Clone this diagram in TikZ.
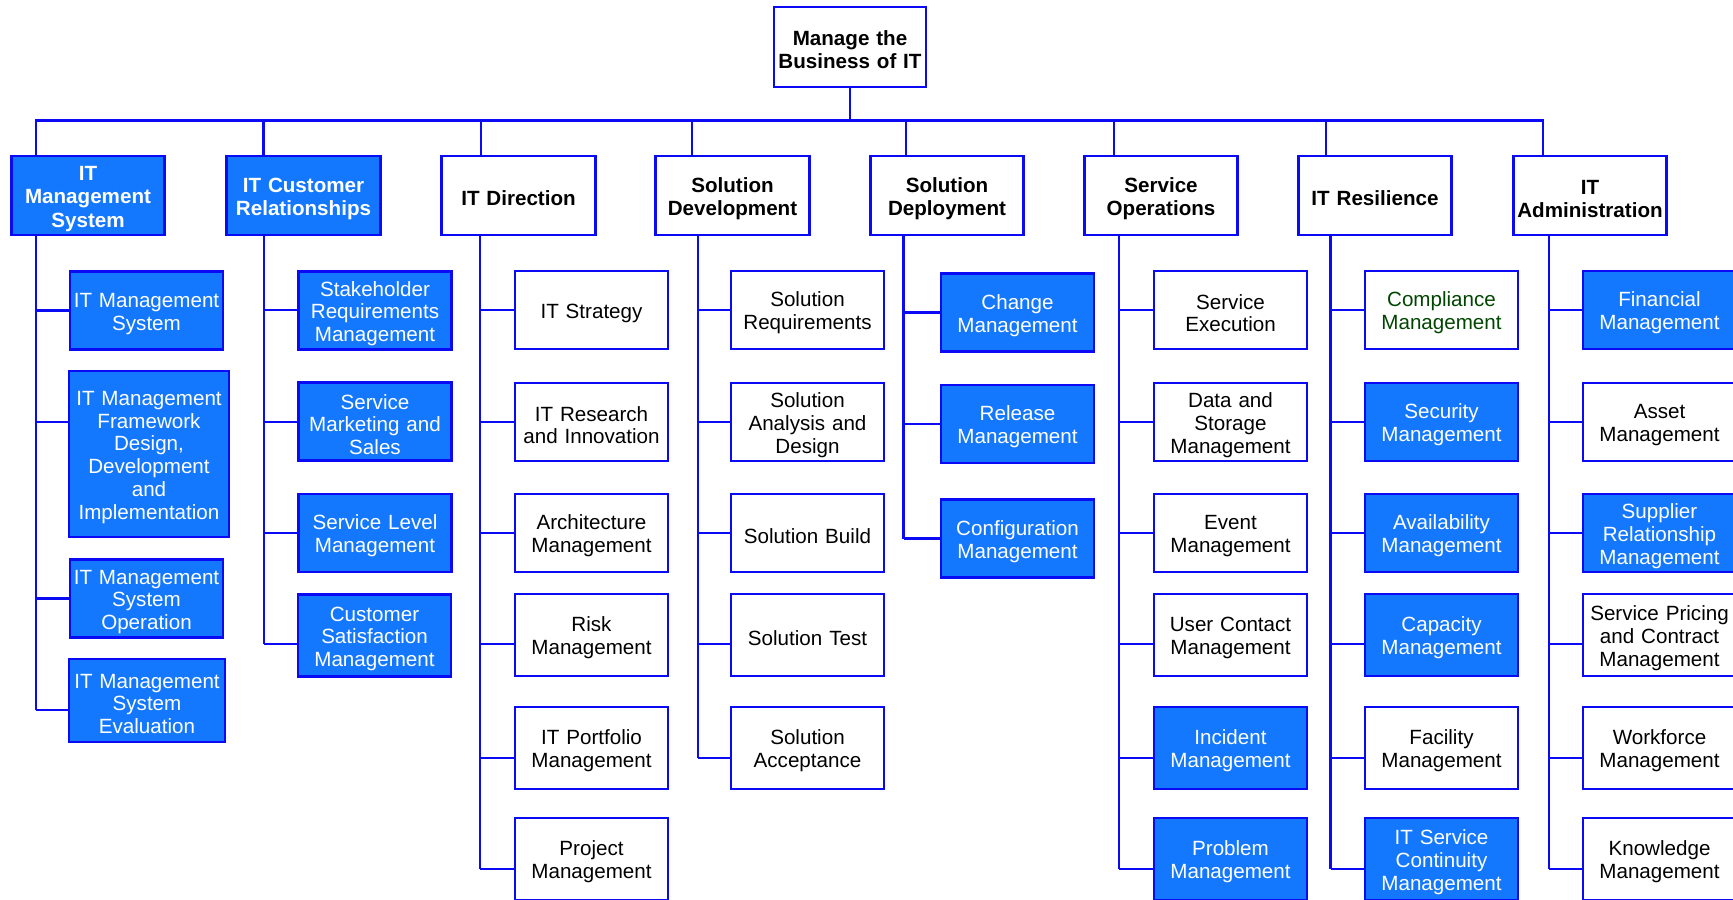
\documentclass[tikz,border=0pt]{standalone}
\usepackage{fontspec}
\setmainfont{Liberation Sans}
\usepackage{xcolor}
\definecolor{boxblue}{RGB}{20,120,255}
\definecolor{lineblue}{RGB}{10,10,245}
\definecolor{textgreen}{RGB}{0,70,0}

\begin{document}
\begin{tikzpicture}[x=0.5pt,y=-0.5pt]
\tikzstyle{every node}+=[inner sep=0pt]
\tikzstyle{box}=[draw=lineblue, line width=1.3pt, minimum width=76.5pt, minimum height=39pt, text width=75pt, align=center, font=\fontsize{10.3}{11.4}\selectfont, execute at begin node={\rule{0pt}{10.5pt}}]
\tikzstyle{head}=[box, minimum width=76.75pt, minimum height=39.5pt, font=\fontsize{10.3}{11.6}\selectfont\bfseries]
\tikzstyle{tall}=[minimum height=41pt]
\tikzstyle{filled}=[fill=boxblue, text=white]
\tikzstyle{link}=[lineblue, line width=1.2pt]
\useasboundingbox (0,0) rectangle (1733,899);
% rows of the ticks, x of the drops and of the spines
\coordinate (r1) at (0,310);
\coordinate (r2) at (0,422);
\coordinate (r3) at (0,533);
\coordinate (r4) at (0,644);
\coordinate (r5) at (0,758);
\coordinate (r6) at (0,869);
\coordinate (da) at (36,0);
\coordinate (db) at (263.5,0);
\coordinate (dc) at (481,0);
\coordinate (dd) at (692,0);
\coordinate (de) at (906,0);
\coordinate (df) at (1114,0);
\coordinate (dg) at (1326,0);
\coordinate (dh) at (1543,0);
\coordinate (sa) at (36,0);
\coordinate (sb) at (264,0);
\coordinate (sc) at (480,0);
\coordinate (sd) at (698,0);
\coordinate (se) at (903.5,0);
\coordinate (sf) at (1119,0);
\coordinate (sg) at (1330.5,0);
\coordinate (sh) at (1549,0);
\coordinate (bus) at (850,120.5);
% top
\node[head, minimum width=76pt, minimum height=40pt] (root) at (850,47) {Manage the\\Business of IT};
\node[head, filled] (ims) at (88,195.5) {IT\\Management\\System};
\node[head, filled] (icr) at (303.5,195.5) {IT Customer\\Relationships};
\node[head] (itd) at (518.5,195.5) {IT Direction};
\node[head] (sdv) at (732.5,195.5) {Solution\\Development};
\node[head] (sdp) at (947,195.5) {Solution\\Deployment};
\node[head] (sop) at (1161,195.5) {Service\\Operations};
\node[head] (itr) at (1375,195.5) {IT Resilience};
\node[head] (ita) at (1590,195.5) {IT\\Administration};
\draw[link] (root.south) -- (bus);
\draw[link] (ims.north -| da) |- (bus) -| (ita.north -| dh);
\draw[link] (bus -| db) -- (icr.north -| db);
\draw[link] (bus -| dc) -- (itd.north -| dc);
\draw[link] (bus -| dd) -- (sdv.north -| dd);
\draw[link] (bus -| de) -- (sdp.north -| de);
\draw[link] (bus -| df) -- (sop.north -| df);
\draw[link] (bus -| dg) -- (itr.north -| dg);
% IT Management System
\node[box, filled] (a1) at (146.5,310.5) {IT Management\\System};
\node[box, filled, minimum width=80pt, minimum height=83pt, text width=78pt] (a2) at (149,454) {IT Management\\Framework\\Design,\\Development\\and\\Implementation};
\node[box, filled] (a3) at (146.5,598.5) {IT Management\\System\\Operation};
\node[box, filled, minimum width=78pt, minimum height=41.5pt] (a4) at (147,700.5) {IT Management\\System\\Evaluation};
\draw[link] (ims.south -| sa) -- (sa |- 0,710);
\draw[link] (sa |- a1.west) -- (a1.west);
\draw[link] (sa |- r2) -- (a2.west |- r2);
\draw[link] (sa |- a3.west) -- (a3.west);
\draw[link] (sa |- 0,710) -- (a4.west |- 0,710);
% IT Customer Relationships
\node[box, filled] (b1) at (375,310.5) {Stakeholder\\Requirements\\Management};
\node[box, filled] (b2) at (375,421.5) {Service\\Marketing and\\Sales};
\node[box, filled] (b3) at (375,533) {Service Level\\Management};
\node[box, filled, tall] (b4) at (374.5,635.5) {Customer\\Satisfaction\\Management};
\draw[link] (icr.south -| sb) -- (sb |- r4);
\foreach \r in {1,...,4}
  \draw[link] (sb |- r\r) -- (b\r.west |- r\r);
% IT Direction
\node[box] (c1) at (591.5,310) {IT Strategy};
\node[box] (c2) at (591.5,422) {IT Research\\and Innovation};
\node[box] (c3) at (591.5,533) {Architecture\\Management};
\node[box, tall] (c4) at (591.5,635) {Risk\\Management};
\node[box, tall] (c5) at (591.5,748) {IT Portfolio\\Management};
\node[box, tall] (c6) at (591.5,859) {Project\\Management};
\draw[link] (itd.south -| sc) -- (sc |- r6);
\foreach \r in {1,...,6}
  \draw[link] (sc |- r\r) -- (c\r.west |- r\r);
% Solution Development
\node[box] (d1) at (807.5,310) {Solution\\Requirements};
\node[box] (d2) at (807.5,422) {Solution\\Analysis and\\Design};
\node[box] (d3) at (807.5,533) {Solution Build};
\node[box, tall] (d4) at (807.5,635) {Solution Test};
\node[box, tall] (d5) at (807.5,748) {Solution\\Acceptance};
\draw[link] (sdv.south -| sd) -- (sd |- r5);
\foreach \r in {1,...,5}
  \draw[link] (sd |- r\r) -- (d\r.west |- r\r);
% Solution Deployment
\node[box, filled] (e1) at (1017.5,312.5) {Change\\Management};
\node[box, filled] (e2) at (1017.5,424) {Release\\Management};
\node[box, filled] (e3) at (1017.5,538.5) {Configuration\\Management};
\draw[link] (sdp.south -| se) -- (se |- e3.west);
\foreach \r in {1,...,3}
  \draw[link] (se |- e\r.west) -- (e\r.west);
% Service Operations
\node[box] (f1) at (1230.5,310) {Service\\Execution};
\node[box] (f2) at (1230.5,422) {Data and\\Storage\\Management};
\node[box] (f3) at (1230.5,533) {Event\\Management};
\node[box, tall] (f4) at (1230.5,635) {User Contact\\Management};
\node[box, tall, filled] (f5) at (1230.5,748) {Incident\\Management};
\node[box, tall, filled] (f6) at (1230.5,859) {Problem\\Management};
\draw[link] (sop.south -| sf) -- (sf |- r6);
\foreach \r in {1,...,6}
  \draw[link] (sf |- r\r) -- (f\r.west |- r\r);
% IT Resilience
\node[box, text=textgreen] (g1) at (1441.5,310) {Compliance\\Management};
\node[box, filled] (g2) at (1441.5,422) {Security\\Management};
\node[box, filled] (g3) at (1441.5,533) {Availability\\Management};
\node[box, tall, filled] (g4) at (1441.5,635) {Capacity\\Management};
\node[box, tall] (g5) at (1441.5,748) {Facility\\Management};
\node[box, tall, filled] (g6) at (1441.5,859) {IT Service\\Continuity\\Management};
\draw[link] (itr.south -| sg) -- (sg |- r6);
\foreach \r in {1,...,6}
  \draw[link] (sg |- r\r) -- (g\r.west |- r\r);
% IT Administration
\node[box, filled] (h1) at (1659.5,310) {Financial\\Management};
\node[box] (h2) at (1659.5,422) {Asset\\Management};
\node[box, filled] (h3) at (1659.5,533) {Supplier\\Relationship\\Management};
\node[box, tall] (h4) at (1659.5,635) {Service Pricing\\and Contract\\Management};
\node[box, tall] (h5) at (1659.5,748) {Workforce\\Management};
\node[box, tall] (h6) at (1659.5,859) {Knowledge\\Management};
\draw[link] (ita.south -| sh) -- (sh |- r6);
\foreach \r in {1,...,6}
  \draw[link] (sh |- r\r) -- (h\r.west |- r\r);
\end{tikzpicture}
\end{document}
